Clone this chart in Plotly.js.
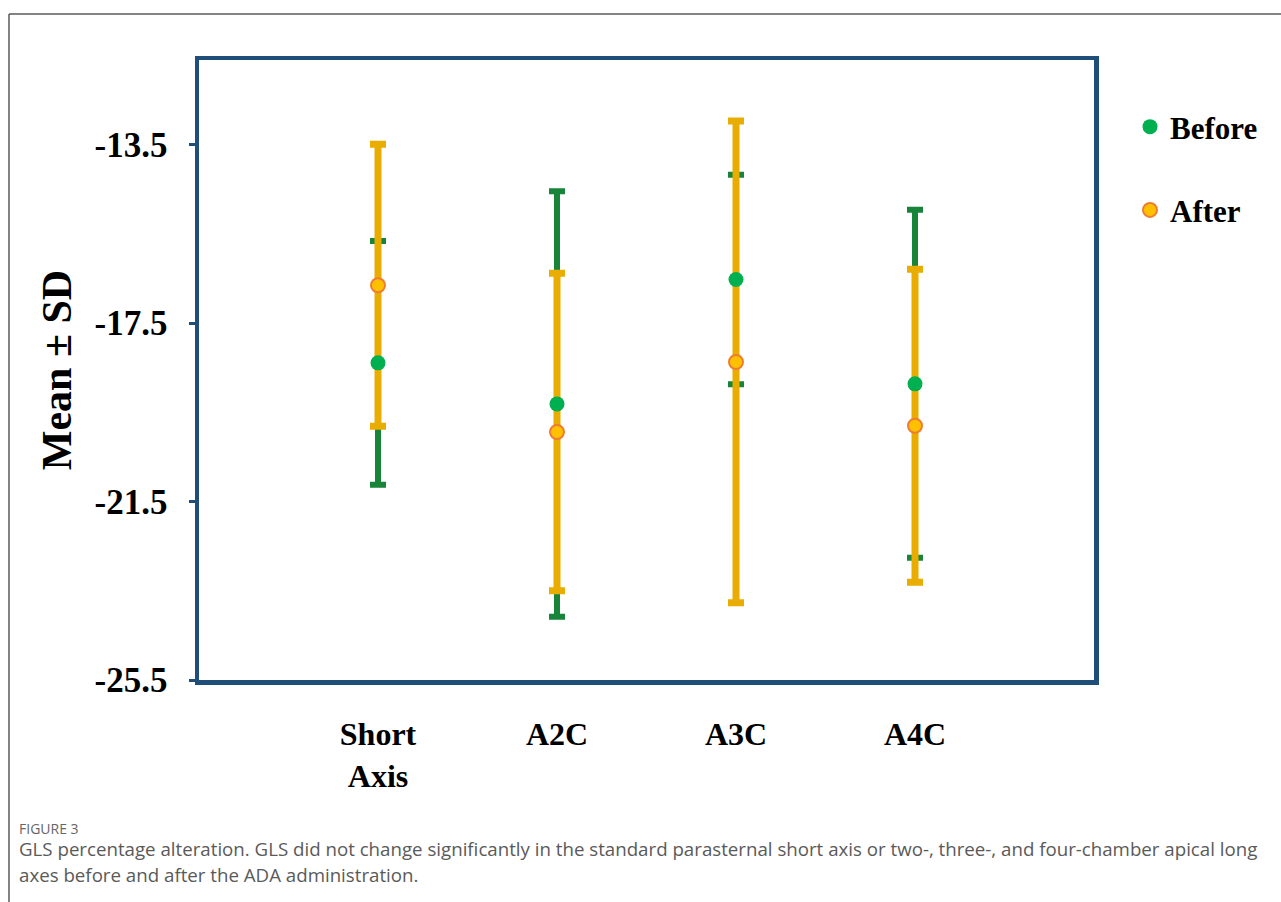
<!DOCTYPE html>
<html>
<head>
<meta charset="utf-8">
<script src="https://cdn.plot.ly/plotly-3.0.1.min.js"></script>
<style>
html,body{margin:0;padding:0;background:#fff;}
#chart{width:1281px;height:902px;}
</style>
</head>
<body>
<div id="chart"></div>
<script>
const categories = ["Short<br>Axis", "A2C", "A3C", "A4C"];
const beforeMean = [-18.39, -19.31, -16.52, -18.86];
const beforeSD   = [2.73, 4.77, 2.35, 3.90];
const afterMean  = [-16.65, -19.94, -18.37, -19.80];
const afterSD    = [3.16, 3.56, 5.40, 3.51];
const yTicks = [-13.5, -17.5, -21.5, -25.5];
const seriesNames = ["Before", "After"];
const captionLabel = "FIGURE 3";
const captionText = ["GLS percentage alteration. GLS did not change significantly in the standard parasternal short axis or two-, three-, and four-chamber apical long",
                     "axes before and after the ADA administration."];

const xIdx = categories.map((c, i) => i);
const serif = "'Liberation Serif', 'Times New Roman', serif";
const greenBar = "#17843a", greenDot = "#00b050";
const orangeBar = "#e8ad00", orangeDot = "#ffc000", orangeEdge = "#ed7d31";

const traces = [
  { type: "scatter", mode: "markers", x: xIdx, y: beforeMean, showlegend: false, hoverinfo: "skip",
    marker: { size: 1, opacity: 0 },
    error_y: { type: "data", array: beforeSD, visible: true, color: greenBar, thickness: 6, width: 8 } },
  { type: "scatter", mode: "markers", x: xIdx, y: afterMean, showlegend: false, hoverinfo: "skip",
    marker: { size: 1, opacity: 0 },
    error_y: { type: "data", array: afterSD, visible: true, color: orangeBar, thickness: 7, width: 8 } },
  { type: "scatter", mode: "markers", x: xIdx, y: beforeMean, name: seriesNames[0], legendgroup: "b",
    marker: { size: 15, color: greenDot, line: { width: 0 } } },
  { type: "scatter", mode: "markers", x: xIdx, y: afterMean, name: seriesNames[1], legendgroup: "a",
    marker: { size: 14, color: orangeDot, line: { width: 2, color: orangeEdge } } }
];

const L = 199, R = 1094, T = 60, B = 680;
const px = p => (p - L) / (R - L);
const py = p => (B - p) / (B - T);

const layout = {
  width: 1281, height: 902,
  margin: { l: L, r: 1281 - R, t: T, b: 902 - B },
  paper_bgcolor: "#fff", plot_bgcolor: "#fff",
  showlegend: true,
  legend: { x: px(1130), y: py(100), xanchor: "left", yanchor: "top",
            font: { family: serif, size: 31, color: "#000", weight: "bold" },
            traceorder: "grouped", tracegroupgap: 40, itemwidth: 30, bgcolor: "rgba(0,0,0,0)" },
  xaxis: {
    range: [-1, 4], tickmode: "array", tickvals: xIdx, ticktext: categories,
    showgrid: false, zeroline: false, ticks: "", ticklabelstandoff: 22,
    showline: true, mirror: true, linecolor: "#1f4e79", linewidth: 4.5,
    tickfont: { family: serif, size: 32, color: "#000", weight: "bold" }
  },
  yaxis: {
    range: [-25.5, -11.6], tickmode: "array", tickvals: yTicks, ticktext: yTicks.map(v => v.toFixed(1)),
    showgrid: false, zeroline: false, ticks: "outside", ticklen: 6, tickwidth: 3, tickcolor: "#1f4e79",
    ticklabelstandoff: 14,
    showline: true, mirror: true, linecolor: "#1f4e79", linewidth: 4.5,
    tickfont: { family: serif, size: 35, color: "#000", weight: "bold" },
    title: { text: "Mean ± SD", standoff: 11, font: { family: serif, size: 42, color: "#000", weight: "bold" } }
  },
  shapes: [
    { type: "line", xref: "paper", yref: "paper", x0: px(9), x1: px(1285), y0: py(14), y1: py(14), line: { color: "#5a5a5a", width: 1.5 } },
    { type: "line", xref: "paper", yref: "paper", x0: px(9), x1: px(9), y0: py(14), y1: py(905), line: { color: "#5a5a5a", width: 1.5 } }
  ],
  annotations: [
    { xref: "paper", yref: "paper", x: px(17), y: py(828), xanchor: "left", yanchor: "middle", showarrow: false,
      text: captionLabel, font: { family: "'Open Sans', sans-serif", size: 14, color: "#666" } },
    { xref: "paper", yref: "paper", x: px(17), y: py(849), xanchor: "left", yanchor: "middle", showarrow: false,
      text: captionText[0], font: { family: "'Open Sans', sans-serif", size: 18.7, color: "#5a5a5a" } },
    { xref: "paper", yref: "paper", x: px(17), y: py(874), xanchor: "left", yanchor: "middle", showarrow: false,
      text: captionText[1], font: { family: "'Open Sans', sans-serif", size: 18.7, color: "#5a5a5a" } }
  ]
};

Plotly.newPlot("chart", traces, layout, { displayModeBar: false, staticPlot: true });
</script>
</body>
</html>
